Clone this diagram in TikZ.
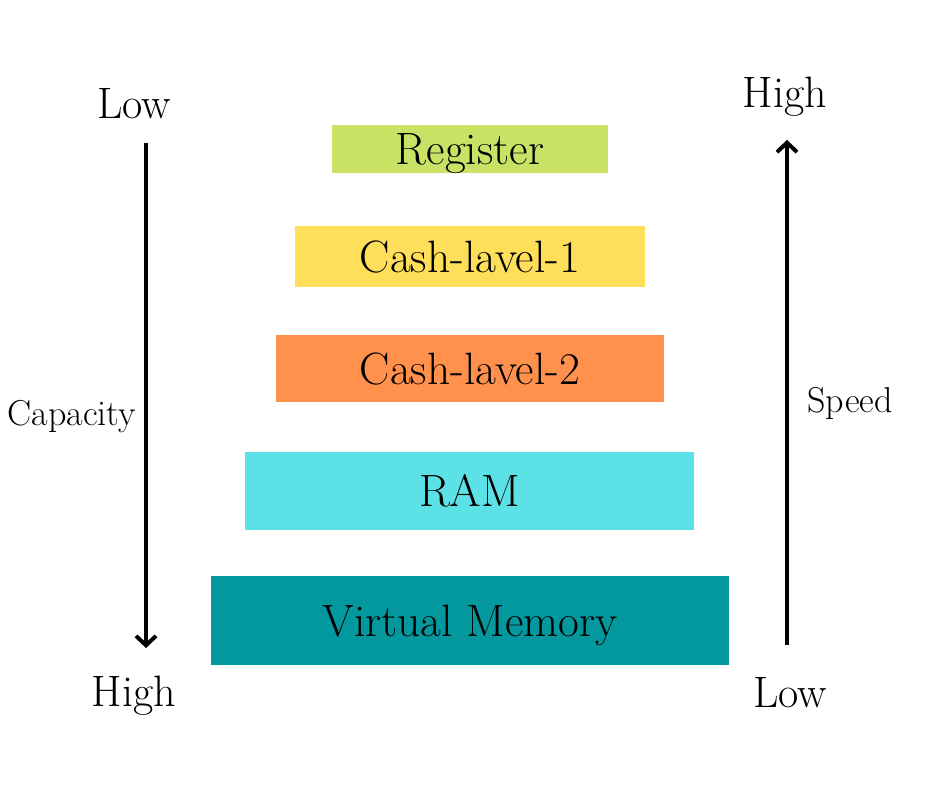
\documentclass[tikz,border=0pt]{standalone}
\usetikzlibrary{arrows.meta}

\definecolor{regcol}{HTML}{C9E265}
\definecolor{lvlonecol}{HTML}{FFDE59}
\definecolor{lvltwocol}{HTML}{FF914D}
\definecolor{ramcol}{HTML}{5CE1E6}
\definecolor{vmcol}{HTML}{03989E}

\begin{document}
\begin{tikzpicture}[x=0.75pt, y=-0.75pt,
    level/.style={inner sep=0pt, text height=23.5pt, text depth=0pt,
        font=\fontsize{34}{40}\selectfont},
    endlabel/.style={anchor=base, font=\fontsize{33}{38}\selectfont},
    sidelabel/.style={anchor=base, font=\fontsize{27}{32}\selectfont},
    axis/.style={line width=3pt, -{Straight Barb[length=7pt, width=15pt, line width=3pt]}}]
    \useasboundingbox (0,0) rectangle (940,788);

    % memory levels, smallest on top
    \node[level, fill=regcol, minimum width=276*0.75pt, minimum height=48*0.75pt] (reg) at (470,149) {Register};
    \node[level, fill=lvlonecol, minimum width=350*0.75pt, minimum height=61*0.75pt] (lvlone) at (470,256.5) {Cash-lavel-1};
    \node[level, fill=lvltwocol, minimum width=388*0.75pt, minimum height=67*0.75pt] (lvltwo) at (470,368.5) {Cash-lavel-2};
    \node[level, fill=ramcol, minimum width=449*0.75pt, minimum height=78*0.75pt] (ram) at (469.5,491) {RAM};
    \node[level, fill=vmcol, minimum width=518*0.75pt, minimum height=89*0.75pt] (vm) at (470,620.5) {Virtual Memory};

    % capacity axis
    \node[endlabel] (caplow) at (134,119) {Low};
    \node[endlabel] (caphigh) at (134,706) {High};
    \node[sidelabel] (capacity) at (72,426) {Capacity};
    \coordinate (captop) at (146,143);
    \coordinate (capbot) at (146,648);
    \draw[axis] (captop) -- (capbot);

    % speed axis
    \node[endlabel] (spdhigh) at (785,108) {High};
    \node[endlabel] (spdlow) at (790,707) {Low};
    \node[sidelabel] (speed) at (850,412) {Speed};
    \coordinate (spdbot) at (787,645);
    \coordinate (spdtop) at (787,140);
    \draw[axis] (spdbot) -- (spdtop);
\end{tikzpicture}
\end{document}
